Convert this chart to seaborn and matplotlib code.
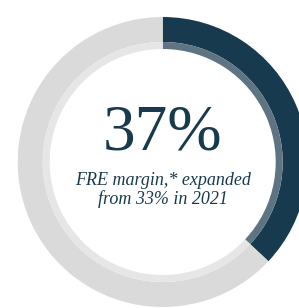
import matplotlib
matplotlib.use("Agg")
import matplotlib.pyplot as plt
import seaborn as sns

sns.set_theme(style="white")

# share of the ring filled
values = [37, 63]
outer_colors = ["#183a4e", "#dadada"]
inner_colors = ["#5f7482", "#e6e6e6"]
big_label = "37%"
sub_label = "FRE margin,* expanded\nfrom 33% in 2021"

fig = plt.figure(figsize=(2.99, 3.08), dpi=100)
ax = fig.add_axes([0, 0, 1, 1])

cx, cy = 162.7, 308 - 162
ax.pie(values, colors=outer_colors, startangle=90, counterclock=False,
       radius=145, center=(cx, cy), frame=True,
       wedgeprops=dict(width=25, linewidth=0))
ax.pie(values, colors=inner_colors, startangle=90, counterclock=False,
       radius=120, center=(cx, cy), frame=True,
       wedgeprops=dict(width=7, linewidth=0))
ax.set_xlim(0, 299)
ax.set_ylim(0, 308)
ax.set_aspect("equal")
ax.axis("off")

ax.text(cx, 308 - 134, big_label, ha="center", va="center",
        fontsize=47, family="Liberation Serif", color="#183a4e")
ax.text(cx, 308 - 190, sub_label, ha="center", va="center",
        fontsize=13, family="Liberation Serif", style="italic",
        color="#183a4e", linespacing=1.1)

fig.savefig("out.png", dpi=100)
